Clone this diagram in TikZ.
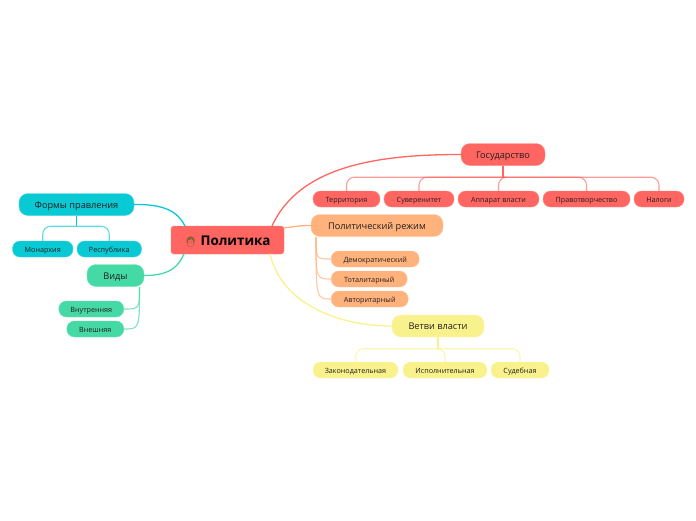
\documentclass[tikz,border=0pt]{standalone}
\usepackage{fontspec}
\setmainfont{Open Sans}
\newfontfamily\emojifont{Noto Emoji}
\usepackage{xcolor}
\usepackage{tikz}
\usetikzlibrary{positioning,calc}
\definecolor{redtopic}{RGB}{255,101,97}
\definecolor{tealtopic}{RGB}{8,201,212}
\definecolor{greentopic}{RGB}{69,217,165}
\definecolor{orangetopic}{RGB}{255,178,124}
\definecolor{yellowtopic}{RGB}{249,242,140}
\definecolor{inktext}{RGB}{35,30,30}
\tikzset{
  rootnode/.style={draw=redtopic!80!white, fill=redtopic, text=black, rounded corners=3pt,
                   minimum width=113pt, minimum height=28pt, inner sep=0pt, text height=12pt, text depth=2pt,
                   font=\fontsize{13.4}{16}\selectfont\bfseries},
  mainnode/.style={fill=#1, draw=#1!75!white, text=inktext, rounded corners=9pt,
                   minimum height=22pt, inner sep=0pt, text height=9.5pt, text depth=2pt,
                   font=\fontsize{9.2}{11}\selectfont},
  subnode/.style={fill=#1, draw=#1!75!white, text=inktext, rounded corners=7.5pt,
                  minimum height=16pt, inner sep=0pt, text height=8pt, text depth=2pt,
                  font=\fontsize{7.2}{9}\selectfont},
  rootlink/.style={#1, line width=1.3pt, line cap=round},
  trunklink/.style={#1, line width=1.8pt},
  treelink/.style={#1, line width=1.1pt, opacity=0.65, rounded corners=8pt}
}
\begin{document}
\begin{tikzpicture}[x=1pt, y=-1pt, node distance=3.6pt]
  \useasboundingbox (0,0) rectangle (696,520);

  \node[rootnode] (root) at (227.5,240) {{\emojifont\fontsize{10}{12}\selectfont\textcolor{brown!75!black}{👩}} Политика\hspace{3pt}};

  % Right side
  \node[mainnode=redtopic, minimum width=84pt] (gov) at (503,154.5) {Государство};
  \node[subnode=redtopic, minimum width=67pt] (terr) at (346.5,199) {Территория};
  \node[subnode=redtopic, minimum width=70pt, right=of terr] (sov) {Суверенитет};
  \node[subnode=redtopic, minimum width=81pt, right=of sov] (appar) {Аппарат власти};
  \node[subnode=redtopic, minimum width=87pt, right=of appar] (law) {Правотворчество};
  \node[subnode=redtopic, minimum width=50pt, right=of law] (tax) {Налоги};

  \node[mainnode=orangetopic, minimum width=132pt] (pol) at (377,225.5) {Политический режим};
  \node[subnode=orangetopic, minimum width=88pt, anchor=west] (demo) at (331,259) {Демократический};
  \node[subnode=orangetopic, minimum width=76pt, anchor=west] (total) at (331,279) {Тоталитарный};
  \node[subnode=orangetopic, minimum width=77pt, anchor=west] (auth) at (331,299) {Авторитарный};

  \node[mainnode=yellowtopic, minimum width=92pt] (branch) at (438,326) {Ветви власти};
  \node[subnode=yellowtopic, minimum width=85pt] (legis) at (355.5,370) {Законодательная};
  \node[subnode=yellowtopic, minimum width=84pt, right=4.6pt of legis] (exec) {Исполнительная};
  \node[subnode=yellowtopic, minimum width=58pt, right=of exec] (court) {Судебная};

  % Left side
  \node[mainnode=tealtopic, minimum width=115pt] (forms) at (76.5,204.5) {Формы правления};
  \node[subnode=tealtopic, minimum width=60.5pt] (mon) at (42.75,249) {Монархия};
  \node[subnode=tealtopic, minimum width=64.5pt, right=of mon] (rep) {Республика};

  \node[mainnode=greentopic, minimum width=57pt] (kinds) at (115.5,275.5) {Виды};
  \node[subnode=greentopic, minimum width=65pt, anchor=east] (inner) at (124,309) {Внутренняя};
  \node[subnode=greentopic, minimum width=57pt, anchor=east] (outer) at (124,329) {Внешняя};

  \coordinate (polfoot) at (316,237);
  \coordinate (kindsfoot) at (139.5,287);
  \coordinate (govhub) at ($(gov.south)+(0,11.5)$);
  \coordinate (branchhub) at ($(branch.south)+(0,11.5)$);
  \coordinate (formshub) at ($(forms.south)+(0,10.5)$);

  % From the root
  \draw[rootlink=redtopic] (272,226) .. controls (300,165) and (380,154.5) .. (gov.west);
  \draw[rootlink=orangetopic] (284,228) .. controls (295,226.5) and (300,225.5) .. (pol.west);
  \draw[rootlink=yellowtopic] (270,254) .. controls (282,305) and (340,326) .. (branch.west);
  \draw[rootlink=tealtopic] (forms.east) .. controls (165,204) and (178,212) .. (185,226);
  \draw[rootlink=greentopic] (kinds.east) .. controls (168,275.5) and (178,268) .. (184,254);

  % Trees
  \draw[trunklink=redtopic] (gov.south) -- (govhub);
  \foreach \leaf in {terr,sov,appar,law,tax}
    \draw[treelink=redtopic] (govhub) -| (\leaf.north);
  \draw[trunklink=yellowtopic] (branch.south) -- (branchhub);
  \foreach \leaf in {legis,exec,court}
    \draw[treelink=yellowtopic] (branchhub) -| (\leaf.north);
  \draw[trunklink=tealtopic] (forms.south) -- (formshub);
  \foreach \leaf in {mon,rep}
    \draw[treelink=tealtopic] (formshub) -| (\leaf.north);
  \foreach \leaf in {demo,total,auth}
    \draw[orangetopic, line width=1.1pt, opacity=0.7] (polfoot) .. controls (polfoot |- \leaf.west) .. (\leaf.west);
  \foreach \leaf in {inner,outer}
    \draw[greentopic, line width=1.1pt, opacity=0.7] (kindsfoot) .. controls (kindsfoot |- \leaf.east) .. (\leaf.east);
\end{tikzpicture}
\end{document}
